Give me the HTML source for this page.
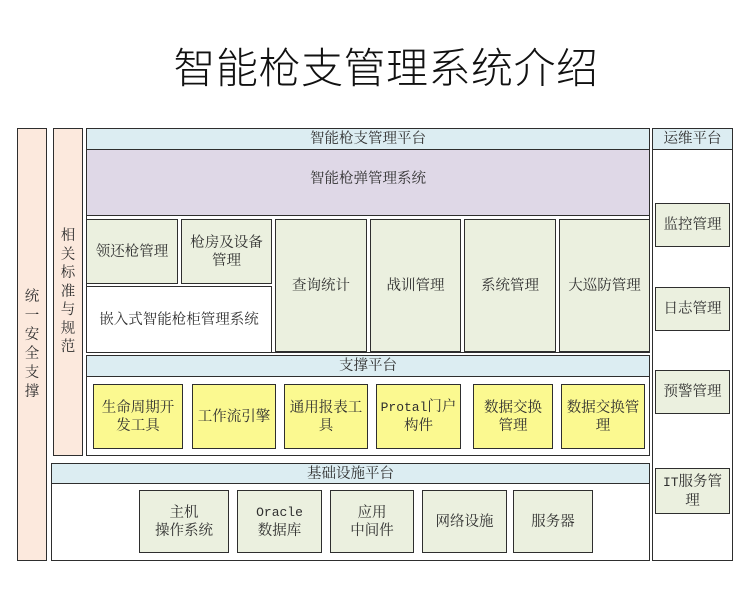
<!DOCTYPE html>
<html>
<head>
<meta charset="utf-8">
<style>
  html,body{margin:0;padding:0;background:#fff;}
  body{width:750px;height:596px;position:relative;overflow:hidden;}
  .t{position:absolute;left:120px;top:45px;width:532px;text-align:center;font-family:"Liberation Sans","Noto Sans CJK SC",sans-serif;font-size:42px;line-height:48px;color:#111;font-weight:300;letter-spacing:0.5px;}
  .b{position:absolute;box-sizing:border-box;border:1.5px solid #2e2e2e;display:flex;align-items:center;justify-content:center;text-align:center;font-family:"Liberation Serif","Noto Serif CJK SC",serif;font-size:14.5px;line-height:18px;color:#2f2f2f;}
  .peach{background:#fce9dd;}
  .hdr{background:#dcedf2;}
  .pur{background:#dfd8e7;}
  .grn{background:#ebf0df;}
  .yel{background:#fbf990;}
  .wh{background:#fff;}
  .mono{font-family:"Liberation Mono",monospace;font-size:13px;}
  .v{flex-direction:column;line-height:17.6px;}
</style>
</head>
<body>
<div class="t">智能枪支管理系统介绍</div>

<!-- left columns -->
<div class="b peach v" style="left:17px;top:128px;width:30px;height:433px;line-height:19px;"><span>统</span><span>一</span><span>安</span><span>全</span><span>支</span><span>撑</span></div>
<div class="b peach v" style="left:53px;top:128px;width:30px;height:328px;line-height:18.5px;"><span>相</span><span>关</span><span>标</span><span>准</span><span>与</span><span>规</span><span>范</span></div>

<!-- main platform -->
<div class="b wh" style="left:86px;top:128px;width:564px;height:225px;"></div>
<div class="b hdr" style="left:86px;top:128px;width:564px;height:22px;">智能枪支管理平台</div>
<div class="b pur" style="left:86px;top:149px;width:564px;height:67px;align-items:flex-start;padding-top:20px;">智能枪弹管理系统</div>

<div class="b grn" style="left:86px;top:219px;width:92px;height:65px;">领还枪管理</div>
<div class="b grn" style="left:181px;top:219px;width:91px;height:65px;">枪房及设备<br>管理</div>
<div class="b wh" style="left:86px;top:286px;width:186px;height:67px;">嵌入式智能枪柜管理系统</div>
<div class="b grn" style="left:275px;top:219px;width:92px;height:133px;">查询统计</div>
<div class="b grn" style="left:370px;top:219px;width:91px;height:133px;">战训管理</div>
<div class="b grn" style="left:464px;top:219px;width:92px;height:133px;">系统管理</div>
<div class="b grn" style="left:559px;top:219px;width:91px;height:133px;">大巡防管理</div>

<!-- ops platform -->
<div class="b wh" style="left:652px;top:128px;width:81px;height:433px;"></div>
<div class="b hdr" style="left:652px;top:128px;width:81px;height:22px;">运维平台</div>
<div class="b grn" style="left:655px;top:203px;width:75px;height:44px;">监控管理</div>
<div class="b grn" style="left:655px;top:287px;width:75px;height:44px;">日志管理</div>
<div class="b grn" style="left:655px;top:370px;width:75px;height:44px;">预警管理</div>
<div class="b grn" style="left:655px;top:468px;width:75px;height:46px;"><span><span class="mono">IT</span>服务管<br>理</span></div>

<!-- support platform -->
<div class="b wh" style="left:86px;top:355px;width:564px;height:101px;"></div>
<div class="b hdr" style="left:86px;top:355px;width:564px;height:22px;">支撑平台</div>
<div class="b yel" style="left:93px;top:384px;width:90px;height:65px;">生命周期开<br>发工具</div>
<div class="b yel" style="left:192px;top:384px;width:84px;height:65px;">工作流引擎</div>
<div class="b yel" style="left:284px;top:384px;width:84px;height:65px;">通用报表工<br>具</div>
<div class="b yel" style="left:376px;top:384px;width:85px;height:65px;"><span><span class="mono">Protal</span>门户<br>构件</span></div>
<div class="b yel" style="left:473px;top:384px;width:80px;height:65px;">数据交换<br>管理</div>
<div class="b yel" style="left:561px;top:384px;width:84px;height:65px;">数据交换管<br>理</div>

<!-- infrastructure platform -->
<div class="b wh" style="left:51px;top:463px;width:599px;height:98px;"></div>
<div class="b hdr" style="left:51px;top:463px;width:599px;height:21px;">基础设施平台</div>
<div class="b grn" style="left:139px;top:490px;width:90px;height:63px;">主机<br>操作系统</div>
<div class="b grn" style="left:237px;top:490px;width:85px;height:63px;"><span><span class="mono">Oracle</span><br>数据库</span></div>
<div class="b grn" style="left:330px;top:490px;width:84px;height:63px;">应用<br>中间件</div>
<div class="b grn" style="left:422px;top:490px;width:85px;height:63px;">网络设施</div>
<div class="b grn" style="left:513px;top:490px;width:80px;height:63px;">服务器</div>
</body>
</html>
